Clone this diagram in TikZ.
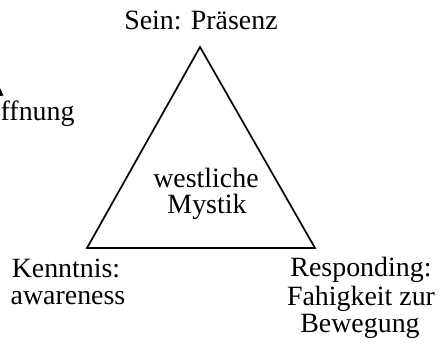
\documentclass[tikz,border=0pt]{standalone}
\usepackage{fontspec}
\setmainfont{Liberation Serif}
\begin{document}
\begin{tikzpicture}[x=1bp,y=-1bp,
  lbl/.style={font=\fontsize{28}{27.5}\selectfont, inner sep=0pt, align=center, anchor=base},
  tri/.style={draw=black, line width=1.7pt, line join=miter}]
\useasboundingbox (0,0) rectangle (442,343);
\coordinate (top) at (200,47);
\coordinate (bl) at (87,248);
\coordinate (br) at (315,248);
\draw[tri] (top) -- (bl) -- (br) -- cycle;
\node[lbl] (sein) at (201,29) {Sein: Präsenz};
\node[lbl] (mystik1) at (206,187) {westliche};
\node[lbl] (mystik2) at (207,213) {Mystik};
\node[lbl] (kenn1) at (66,277) {Kenntnis:};
\node[lbl] (kenn2) at (68,304) {awareness};
\node[lbl] (resp1) at (361,276) {Responding:};
\node[lbl] (resp2) at (361,305) {Fahigkeit zur};
\node[lbl] (resp3) at (360,332) {Bewegung};
\node[lbl, anchor=base west] (off) at (0.5,120) {ffnung};
\fill (0,88) -- (3.5,95.5) -- (0,96) -- cycle;
\end{tikzpicture}
\end{document}
